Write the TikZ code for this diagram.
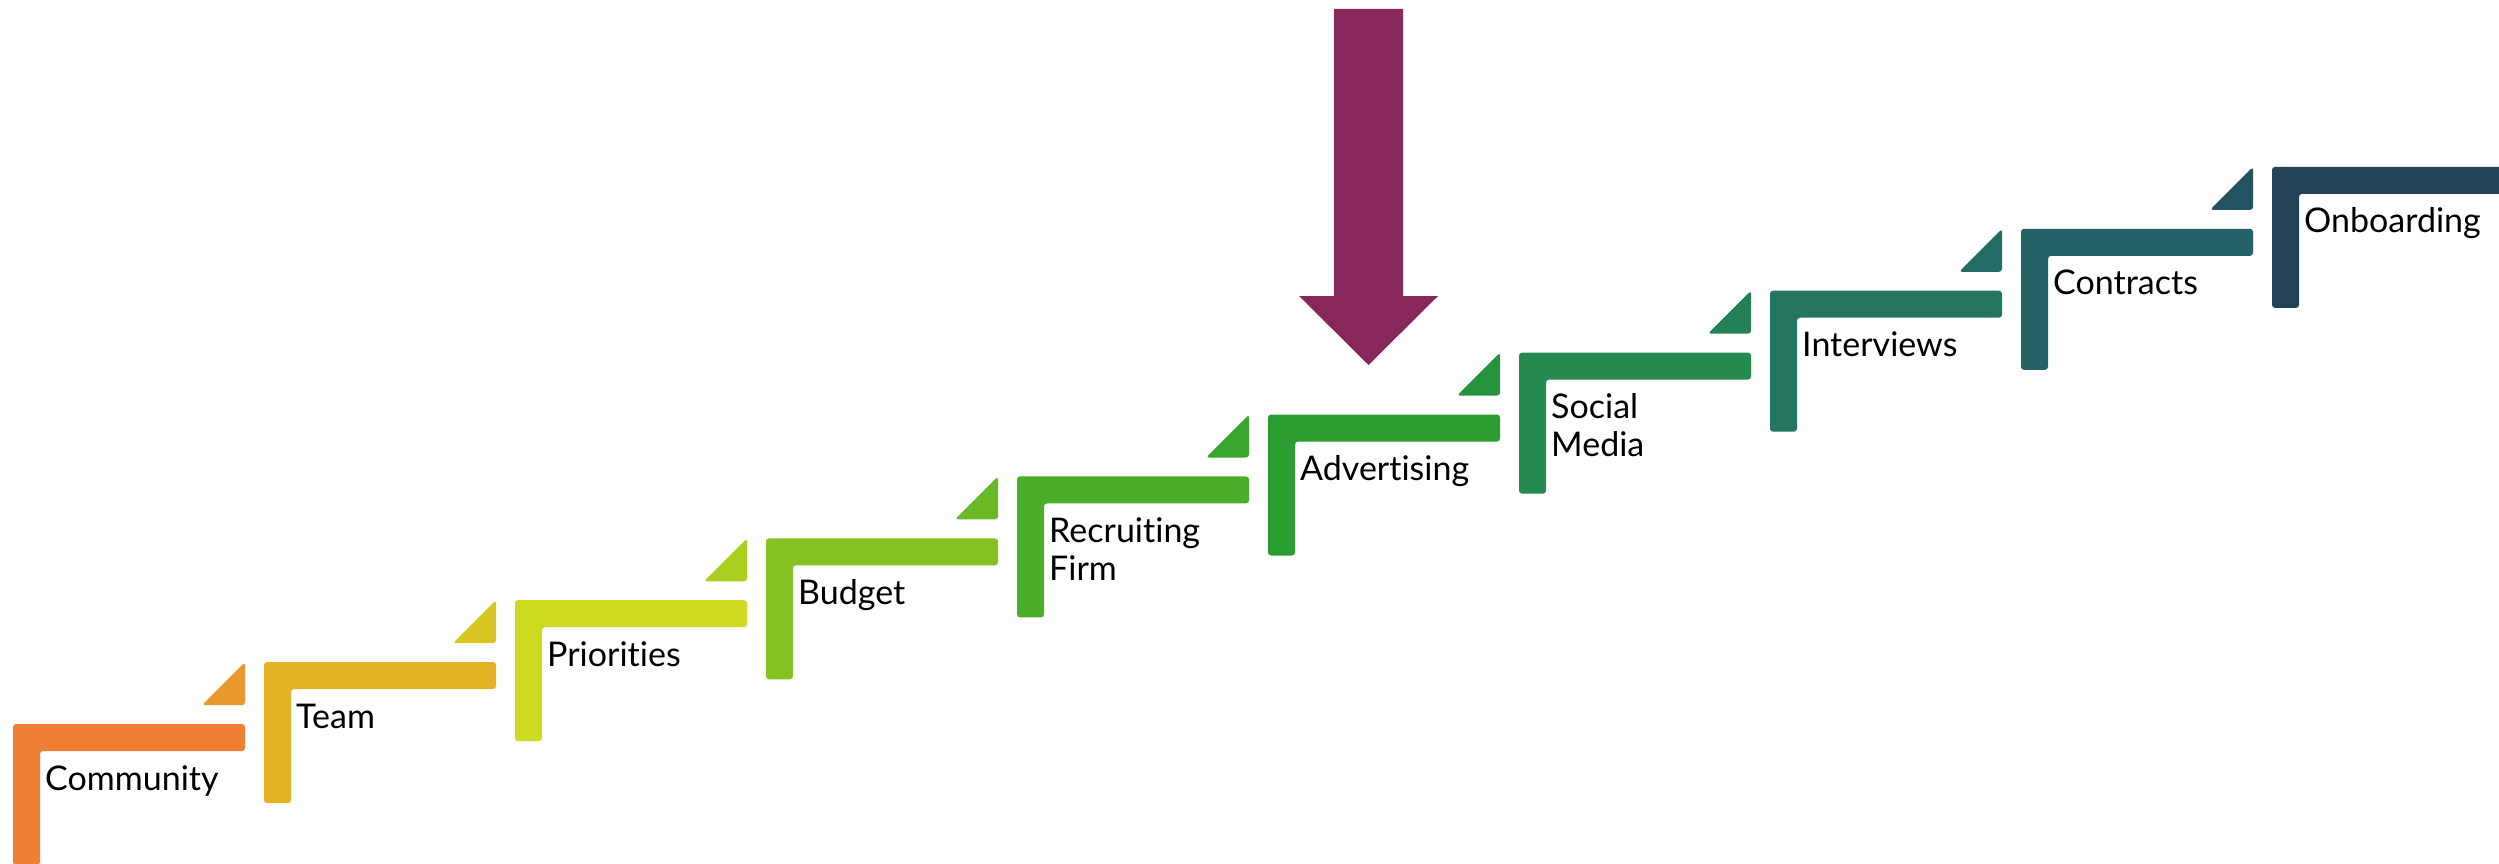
\documentclass[tikz,border=0pt]{standalone}
\usepackage{fontspec}
\setmainfont{Lato}[Ligatures={NoCommon}]
% step colours, from orange to dark teal
\definecolor{c0}{HTML}{EE7F33}
\definecolor{c1}{HTML}{E5B226}
\definecolor{c2}{HTML}{CEDA1F}
\definecolor{c3}{HTML}{86C322}
\definecolor{c4}{HTML}{4BAE2A}
\definecolor{c5}{HTML}{2A9C30}
\definecolor{c6}{HTML}{258A4E}
\definecolor{c7}{HTML}{247660}
\definecolor{c8}{HTML}{246268}
\definecolor{c9}{HTML}{234257}
\definecolor{arrowc}{HTML}{88285A}
\begin{document}
\begin{tikzpicture}[x=1pt,y=-1pt,
  stepbar/.style={rounded corners=3pt},
  lbl/.style={font=\fontsize{34}{38}\selectfont, text=black, inner sep=0pt, anchor=base west}]
\useasboundingbox (0,0) rectangle (2499,864);
\clip (0,0) rectangle (2499,864);

% the L-shaped steps, a small wedge in front of each following step, and the labels
% (labels are set in a \vtop so that the node's base is the first line's baseline)
\foreach \i/\lab [evaluate=\i as \x using 13+251*\i,
                  evaluate=\i as \y using 724-61.9*\i,
                  evaluate=\i as \j using int(\i+1)] in
  {0/{\hbox{Community}}, 1/{\hbox{Team}}, 2/{\hbox{Priorities}}, 3/{\hbox{Budget}},
   4/{\hbox{Recruiting}\hbox{Firm}}, 5/{\hbox{Advertising}},
   6/{\hbox{Social}\hbox{Media}}, 7/{\hbox{Interviews}}, 8/{\hbox{Contracts}},
   9/{\hbox{Onboarding}}}{
  \fill[c\i, stepbar] (\x,\y+141) -- (\x,\y) -- (\x+232,\y) -- (\x+232,\y+27)
       -- (\x+27,\y+27) -- (\x+27,\y+141) -- cycle;
  \ifnum\i<9
    \fill[c\i!50!c\j, stepbar] (\x+189,\y-18.9) -- (\x+232,\y-61.9) -- (\x+232,\y-18.9) -- cycle;
  \fi
  \node[lbl] (s\i) at (\x+32,\y+66) {\vtop{\lab}};
}

% marker arrow pointing down at the Advertising step
\fill[arrowc] (1334,9) -- (1403,9) -- (1403,296) -- (1438,296) -- (1368.5,365)
     -- (1299,296) -- (1334,296) -- cycle;
\end{tikzpicture}
\end{document}
